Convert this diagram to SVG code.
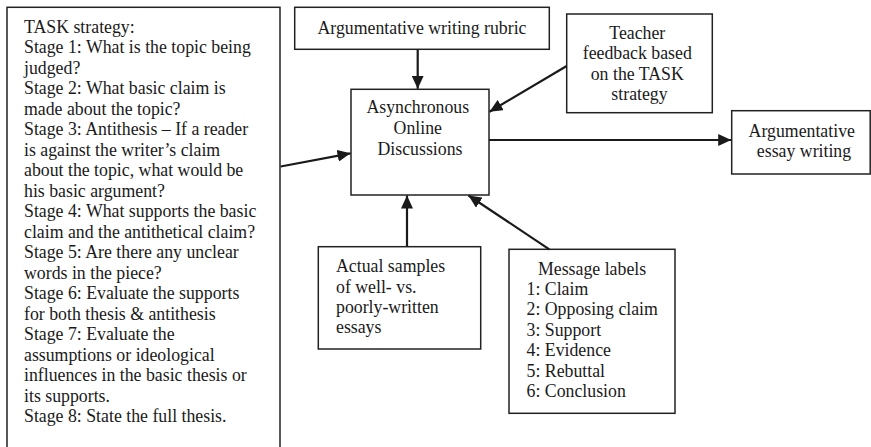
<svg xmlns="http://www.w3.org/2000/svg" width="871" height="447" viewBox="0 0 871 447">
  <style>
    .box { fill: #fff; stroke: #222; stroke-width: 1.5; }
    .lbl { font-family: "Liberation Serif", "Times New Roman", serif; font-size: 17.8px; fill: #1a1a1a; }
    .mid { text-anchor: middle; }
    .edge { fill: none; stroke: #1a1a1a; stroke-width: 2.2; marker-end: url(#ah); }
  </style>
  <defs>
    <marker id="ah" markerUnits="userSpaceOnUse" markerWidth="14" markerHeight="12" refX="13" refY="6" orient="auto">
      <path d="M0,0 L13,6 L0,12 Z" fill="#1a1a1a"/>
    </marker>
  </defs>

  <rect width="871" height="447" fill="#fff"/>

  <!-- TASK strategy list (box runs off the bottom edge) -->
  <g id="task-strategy">
    <rect class="box" x="7" y="7.3" width="273" height="450"/>
    <text class="lbl" x="24">
      <tspan x="24" y="32.5">TASK strategy:</tspan>
      <tspan x="24" y="53">Stage 1: What is the topic being</tspan>
      <tspan x="24" y="73.5">judged?</tspan>
      <tspan x="24" y="94">Stage 2: What basic claim is</tspan>
      <tspan x="24" y="114.5">made about the topic?</tspan>
      <tspan x="24" y="135">Stage 3: Antithesis – If a reader</tspan>
      <tspan x="24" y="155.5">is against the writer’s claim</tspan>
      <tspan x="24" y="176">about the topic, what would be</tspan>
      <tspan x="24" y="196.5">his basic argument?</tspan>
      <tspan x="24" y="217">Stage 4: What supports the basic</tspan>
      <tspan x="24" y="237.5">claim and the antithetical claim?</tspan>
      <tspan x="24" y="258">Stage 5: Are there any unclear</tspan>
      <tspan x="24" y="278.5">words in the piece?</tspan>
      <tspan x="24" y="299">Stage 6: Evaluate the supports</tspan>
      <tspan x="24" y="319.5">for both thesis &amp; antithesis</tspan>
      <tspan x="24" y="340">Stage 7: Evaluate the</tspan>
      <tspan x="24" y="360.5">assumptions or ideological</tspan>
      <tspan x="24" y="381">influences in the basic thesis or</tspan>
      <tspan x="24" y="401.5">its supports.</tspan>
      <tspan x="24" y="422">Stage 8: State the full thesis.</tspan>
    </text>
  </g>

  <g id="rubric">
    <rect class="box" x="294.7" y="7.3" width="254.6" height="42"/>
    <text class="lbl mid" x="422" y="33.5">Argumentative writing rubric</text>
  </g>

  <g id="discussions">
    <rect class="box" x="351" y="89.3" width="138" height="105.7"/>
    <text class="lbl mid">
      <tspan x="420" y="113">Asynchronous</tspan>
      <tspan x="420" y="134">Online</tspan>
      <tspan x="420" y="155">Discussions</tspan>
    </text>
  </g>

  <g id="teacher-feedback">
    <rect class="box" x="566.7" y="14" width="145.6" height="98.7"/>
    <text class="lbl mid">
      <tspan x="639.5" y="38.5">Teacher</tspan>
      <tspan x="639.5" y="59">feedback based</tspan>
      <tspan x="639.5" y="79.5">on the TASK</tspan>
      <tspan x="639.5" y="100">strategy</tspan>
    </text>
  </g>

  <g id="essay-writing">
    <rect class="box" x="731.7" y="110.7" width="138.5" height="63.3"/>
    <text class="lbl mid">
      <tspan x="804" y="137">Argumentative</tspan>
      <tspan x="804" y="157">essay writing</tspan>
    </text>
  </g>

  <g id="samples">
    <rect class="box" x="318.3" y="246.7" width="162.4" height="102.3"/>
    <text class="lbl">
      <tspan x="336" y="272">Actual samples</tspan>
      <tspan x="336" y="292.5">of well- vs.</tspan>
      <tspan x="336" y="313">poorly-written</tspan>
      <tspan x="336" y="333">essays</tspan>
    </text>
  </g>

  <g id="message-labels">
    <rect class="box" x="509" y="249.3" width="166" height="164"/>
    <text class="lbl">
      <tspan x="538" y="274.5">Message labels</tspan>
      <tspan x="526.5" y="294.5">1: Claim</tspan>
      <tspan x="526.5" y="315">2: Opposing claim</tspan>
      <tspan x="526.5" y="335.5">3: Support</tspan>
      <tspan x="526.5" y="356">4: Evidence</tspan>
      <tspan x="526.5" y="376.5">5: Rebuttal</tspan>
      <tspan x="526.5" y="397">6: Conclusion</tspan>
    </text>
  </g>

  <!-- connectors -->
  <g id="connectors">
    <line class="edge" x1="280.7" y1="166.5" x2="350.5" y2="153.3"/>
    <line class="edge" x1="417.7" y1="49.3" x2="417.7" y2="88.8"/>
    <line class="edge" x1="566.7" y1="66" x2="489.5" y2="111.7"/>
    <line class="edge" x1="489" y1="140" x2="731.2" y2="140"/>
    <line class="edge" x1="407" y1="246.7" x2="407" y2="195.5"/>
    <line class="edge" x1="549.3" y1="249.3" x2="468.5" y2="195.5"/>
  </g>
</svg>
